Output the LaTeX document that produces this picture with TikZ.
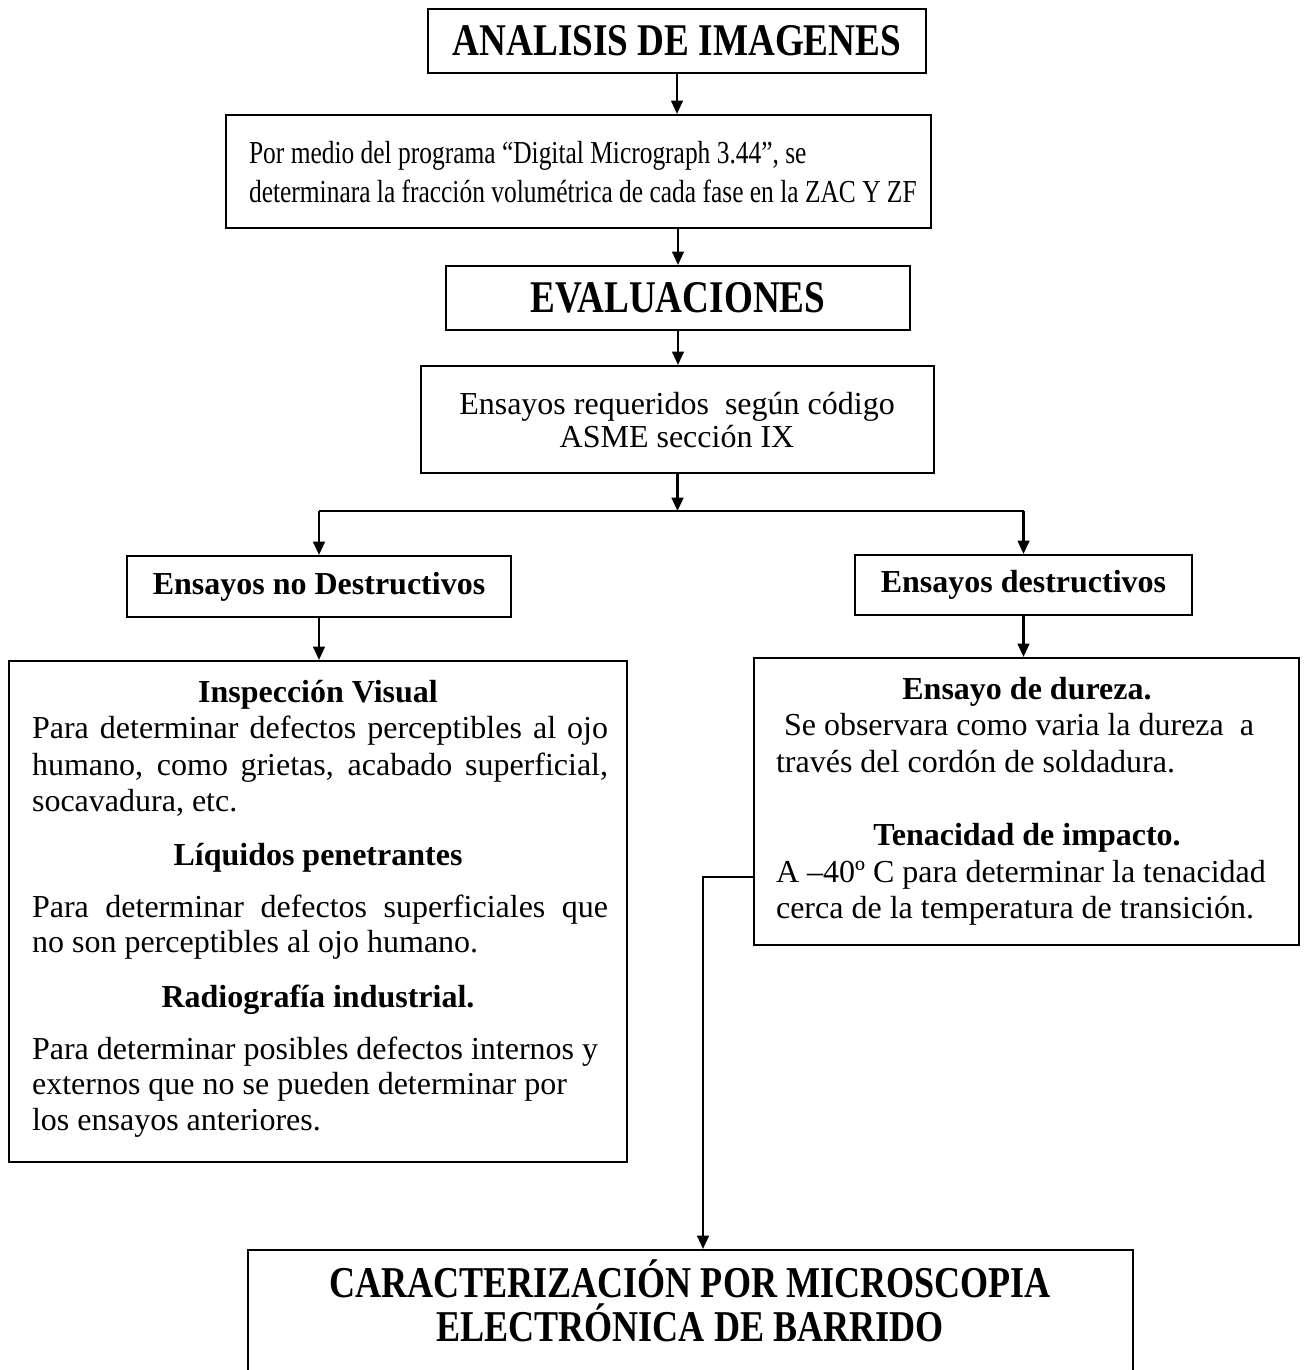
\documentclass[tikz,border=0pt]{standalone}
\usepackage{fontspec}
\setmainfont{Liberation Serif}
\newfontfamily\estrecha{Liberation Serif}[FakeStretch=0.82]
\newfontfamily\estrecho{Liberation Serif}[FakeStretch=0.795]
\usetikzlibrary{arrows.meta,positioning}

\begin{document}
\begin{tikzpicture}[x=0.375pt, y=-0.375pt, line width=0.8pt, caja/.style 2 args={draw, inner sep=0pt, minimum width=#1*0.375pt, minimum height=#2*0.375pt}, fl/.style={-{Triangle[length=5pt, width=4.4pt]}}, tit/.style={font=\estrecha\bfseries\fontsize{17}{20}\selectfont}, nar/.style={inner sep=0pt, font=\estrecho\fontsize{12}{14}\selectfont}, txt/.style={inner sep=0pt, font=\fontsize{12}{14}\selectfont}, neg/.style={inner sep=0pt, font=\bfseries\fontsize{12}{14}\selectfont}]

\useasboundingbox (0,0) rectangle (1304,1370);
\clip (0,0) rectangle (1304,1370);

\node[caja={498}{64}, tit] (ana) at (677,41) {ANALISIS DE IMAGENES};
\node[caja={705}{113}] (prog) at (578.5,171.5) {};
\node[nar, anchor=base west] (prog1) at (248,164) {Por medio del programa “Digital Micrograph 3.44”, se};
\node[nar, anchor=base west] (prog2) at (248,202) {determinara la fracción volumétrica de cada fase en la ZAC Y ZF};
\node[caja={464}{64}, tit] (eva) at (678,298) {EVALUACIONES};
\node[caja={513}{107}] (asme) at (677.5,419.5) {};
\node[txt, anchor=base] (asme1) at (677,414) {Ensayos requeridos\ \ según código};
\node[txt, anchor=base] (asme2) at (677,447) {ASME sección IX};
\coordinate (rama) at (677.5,511);
\node[caja={384}{61}, neg] (nodes) at (319,586.5) {Ensayos no Destructivos};
\node[caja={337}{60}, neg] (des) at (1023.5,585) {Ensayos destructivos};

\node[caja={618}{501}] (insp) at (318,911.5) {};
\node[neg, anchor=base] (insp1) at (318,702) {Inspección Visual};
\node[txt, anchor=base west] (insp2) at (31,738) {\makebox[216pt][s]{Para determinar defectos perceptibles al ojo}};
\node[txt, anchor=base west] (insp3) at (31,775) {\makebox[216pt][s]{humano, como grietas, acabado superficial,}};
\node[txt, anchor=base west] (insp4) at (31,811) {socavadura, etc.};
\node[neg, anchor=base] (liq1) at (318,865) {Líquidos penetrantes};
\node[txt, anchor=base west] (liq2) at (31,917) {\makebox[216pt][s]{Para determinar defectos superficiales que}};
\node[txt, anchor=base west] (liq3) at (31,952) {no son perceptibles al ojo humano.};
\node[neg, anchor=base] (rad1) at (318,1007) {Radiografía industrial.};
\node[txt, anchor=base west] (rad2) at (31,1059) {Para determinar posibles defectos internos y};
\node[txt, anchor=base west] (rad3) at (31,1094) {externos que no se pueden determinar por};
\node[txt, anchor=base west] (rad4) at (31,1130) {los ensayos anteriores.};

\node[caja={545}{287}] (dur) at (1026.5,801.5) {};
\node[neg, anchor=base] (dur1) at (1027,699) {Ensayo de dureza.};
\node[txt, anchor=base west] (dur2) at (775,735) {\ Se observara como varia la dureza\ \ a};
\node[txt, anchor=base west] (dur3) at (775,772) {través del cordón de soldadura.};
\node[neg, anchor=base] (ten1) at (1027,845) {Tenacidad de impacto.};
\node[txt, anchor=base west] (ten2) at (775,882) {A –40º C para determinar la tenacidad};
\node[txt, anchor=base west] (ten3) at (775,918) {cerca de la temperatura de transición.};

\node[caja={885}{200}] (mic) at (690.5,1350) {};
\node[tit, font=\estrecha\bfseries\fontsize{16.5}{19}\selectfont, anchor=base] (mic1) at (690,1297) {CARACTERIZACIÓN POR MICROSCOPIA};
\node[tit, font=\estrecha\bfseries\fontsize{16.5}{19}\selectfont, anchor=base] (mic2) at (690,1341) {ELECTRÓNICA DE BARRIDO};
\coordinate (codo) at (703,877);

\draw[fl] (ana.south) -- (ana.south |- prog.north);
\draw[fl] (eva.north |- prog.south) -- (eva.north);
\draw[fl] (eva.south) -- (eva.south |- asme.north);
\draw[fl] (asme.south) -- (rama);
\draw (rama -| nodes) -- (rama -| des);
\draw[fl] (rama -| nodes) -- (nodes.north);
\draw[fl] (rama -| des) -- (des.north);
\draw[fl] (nodes.south) -- (nodes.south |- insp.north);
\draw[fl] (des.south) -- (des.south |- dur.north);
\draw[fl] (dur.west |- codo) -- (codo) -- (codo |- mic.north);
\end{tikzpicture}
\end{document}
